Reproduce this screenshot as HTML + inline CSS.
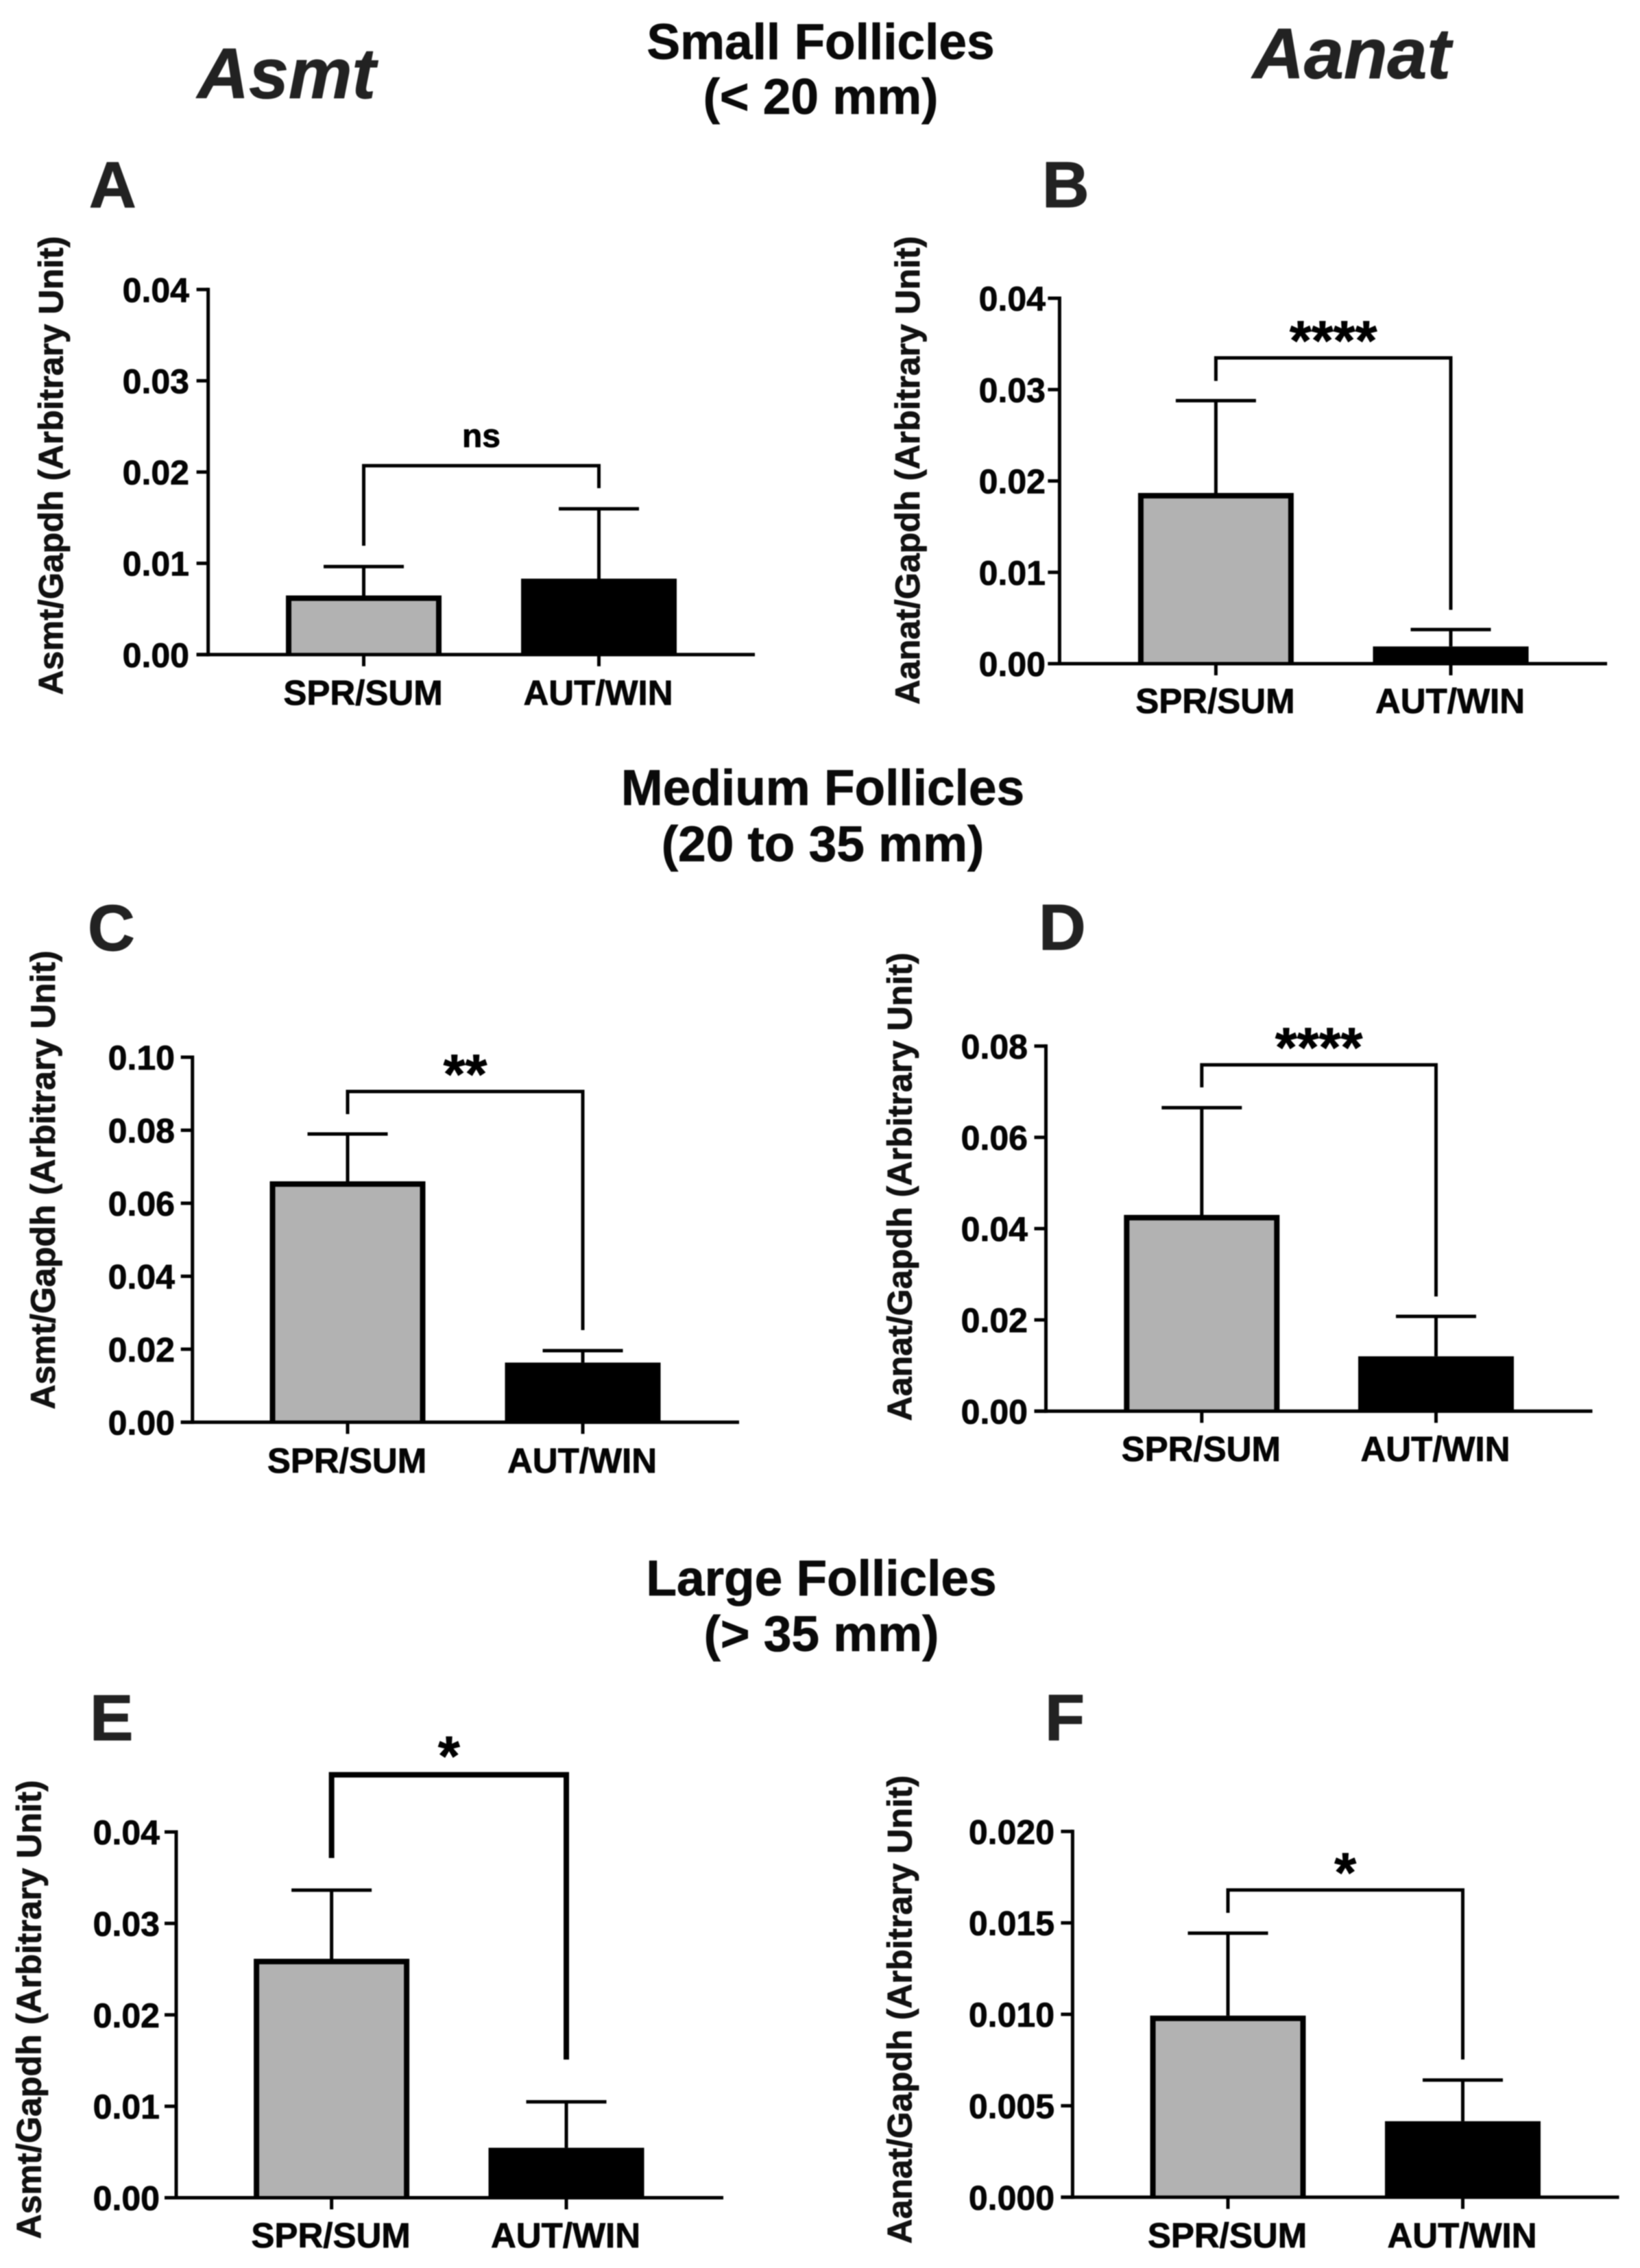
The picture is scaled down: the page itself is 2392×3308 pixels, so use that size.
<!DOCTYPE html>
<html lang="en">
<head>
<meta charset="utf-8">
<title>Asmt and Aanat expression in follicles</title>
<style>
html,body{margin:0;padding:0;background:#fff;}
svg{display:block;font-family:"Liberation Sans",Arial,sans-serif;font-weight:bold;filter:blur(0.7px);}
svg text{stroke-linejoin:round;}
.head{font-size:73px;fill:#0a0a0a;stroke:#0a0a0a;stroke-width:0.8px;text-anchor:middle;}
.gene{font-size:104px;font-style:italic;fill:#222;stroke:#222;stroke-width:1px;}
.letter{font-size:95px;fill:#222;stroke:#222;stroke-width:1.2px;}
</style>
</head>
<body>
<svg id="figure" xmlns="http://www.w3.org/2000/svg" width="2392" height="3308" viewBox="0 0 2392 3308">
<rect x="0" y="0" width="2392" height="3308" fill="#fff"/>
<text class="gene" x="288" y="143">Asmt</text>
<text class="gene" x="1827" y="114">Aanat</text>
<text class="head" x="1197" y="86">Small Follicles</text>
<text class="head" x="1197" y="166">(&lt; 20 mm)</text>
<text class="head" x="1200" y="1174">Medium Follicles</text>
<text class="head" x="1200" y="1256">(20 to 35 mm)</text>
<text class="head" x="1198" y="2327">Large Follicles</text>
<text class="head" x="1198" y="2408">(&gt; 35 mm)</text>
<text class="letter" x="130" y="302">A</text>
<text class="letter" x="1520" y="302">B</text>
<text class="letter" x="128" y="1386">C</text>
<text class="letter" x="1515" y="1385">D</text>
<text class="letter" x="131" y="2538">E</text>
<text class="letter" x="1524" y="2538">F</text>
</svg>
<script>
const categories = ['SPR/SUM', 'AUT/WIN'];

const panelAMeans = [0.00648, 0.00832];
const panelAErrorTops = [0.00965, 0.01598];
const panelATicks = ['0.00', '0.01', '0.02', '0.03', '0.04'];
const panelABracket = [0.01193, 0.0207, 0.01824];

const panelBMeans = [0.01869, 0.00189];
const panelBErrorTops = [0.02879, 0.00373];
const panelBTicks = ['0.00', '0.01', '0.02', '0.03', '0.04'];
const panelBBracket = [0.03095, 0.03347, 0.00589];

const panelCMeans = [0.0660, 0.01634];
const panelCErrorTops = [0.07896, 0.0196];
const panelCTicks = ['0.00', '0.02', '0.04', '0.06', '0.08', '0.10'];
const panelCBracket = [0.0844, 0.0906, 0.02524];

const panelDMeans = [0.04301, 0.01202];
const panelDErrorTops = [0.0665, 0.02078];
const panelDTicks = ['0.00', '0.02', '0.04', '0.06', '0.08'];
const panelDBracket = [0.07096, 0.0759, 0.02513];

const panelEMeans = [0.02613, 0.00546];
const panelEErrorTops = [0.03364, 0.01049];
const panelETicks = ['0.00', '0.01', '0.02', '0.03', '0.04'];
const panelEBracket = [0.03715, 0.04625, 0.01511];

const panelFMeans = [0.00993, 0.00416];
const panelFErrorTops = [0.01444, 0.00641];
const panelFTicks = ['0.000', '0.005', '0.010', '0.015', '0.020'];
const panelFBracket = [0.01555, 0.0168, 0.00753];

const SVG_NS = 'http://www.w3.org/2000/svg';
const figure = document.getElementById('figure');

function make(parent, tag, attrs, text) {
  const el = document.createElementNS(SVG_NS, tag);
  Object.keys(attrs).forEach(function (k) { el.setAttribute(k, attrs[k]); });
  if (text !== undefined) el.textContent = text;
  parent.appendChild(el);
  return el;
}

function drawPanel(id, d, g) {
  const group = make(figure, 'g', {});
  
  

  const tickValues = d.ticks.map(parseFloat);
  const maxValue = tickValues[tickValues.length - 1];
  const yScale = function (v) { return g.y0 - (v / maxValue) * (g.y0 - g.yTop); };
  const xScale = function (i) { return g.x0 + i * g.step; };
  const lineW = 5;

  // bars (open at the bottom: the x axis closes them)
  d.means.forEach(function (v, i) {
    const barStroke = 8;
    const left = xScale(i) - g.barW / 2 + barStroke / 2;
    const right = xScale(i) + g.barW / 2 - barStroke / 2;
    const top = yScale(v) + barStroke / 2;
    const bar = make(group, 'path', {
      d: 'M' + left + ' ' + g.y0 + 'L' + left + ' ' + top + 'L' + right + ' ' + top + 'L' + right + ' ' + g.y0,
      fill: i === 0 ? '#b2b2b2' : '#000',
      stroke: '#000',
      'stroke-width': barStroke
    });
    
    
  });

  // error bars
  d.errs.forEach(function (v, i) {
    const stem = make(group, 'line', {
      x1: xScale(i), x2: xScale(i), y1: yScale(d.means[i]), y2: yScale(v),
      stroke: '#000', 'stroke-width': lineW
    });
    
    
    const cap = make(group, 'line', {
      x1: xScale(i) - 58.5, x2: xScale(i) + 58.5, y1: yScale(v), y2: yScale(v),
      stroke: '#000', 'stroke-width': lineW
    });
    
    
  });

  // axes
  const yAxis = make(group, 'line', {
    x1: g.axisX, x2: g.axisX, y1: g.yTop - 2.5, y2: g.y0 + 2.5,
    stroke: '#000', 'stroke-width': lineW
  });
  
  
  const xAxis = make(group, 'line', {
    x1: g.axisX - 17, x2: g.xRight, y1: g.y0, y2: g.y0,
    stroke: '#000', 'stroke-width': lineW
  });
  
  

  // y ticks
  d.ticks.forEach(function (label, i) {
    const y = yScale(tickValues[i]);
    const tick = make(group, 'line', {
      x1: g.axisX - 17, x2: g.axisX, y1: y, y2: y,
      stroke: '#000', 'stroke-width': lineW
    });
    
    
    const text = make(group, 'text', {
      x: g.tickLabelX, y: y + 18, 'text-anchor': 'end',
      'font-size': 50, fill: '#050505', stroke: '#050505', 'stroke-width': 0.8
    }, label);
    
    
  });

  // x ticks
  categories.forEach(function (label, i) {
    const tick = make(group, 'line', {
      x1: xScale(i), x2: xScale(i), y1: g.y0, y2: g.y0 + 17,
      stroke: '#000', 'stroke-width': lineW
    });
    
    
    const text = make(group, 'text', {
      x: xScale(i) - 1, y: g.catBase, 'text-anchor': 'middle',
      'font-size': 51, fill: '#050505', stroke: '#050505', 'stroke-width': 0.8
    }, label);
    
    
  });

  // y title
  const title = make(group, 'text', {
    x: g.titleX, y: g.titleY, 'text-anchor': 'middle', 'font-size': 50.2,
    fill: '#111', stroke: '#111', 'stroke-width': 0.8,
    transform: 'rotate(-90 ' + g.titleX + ' ' + g.titleY + ')'
  }, d.yTitle);
  
  

  // significance bracket: left end, top, right end in data units
  const bx0 = xScale(0), bx1 = xScale(1);
  const bracket = make(group, 'path', {
    d: 'M' + bx0 + ' ' + yScale(d.bracket[0]) + 'L' + bx0 + ' ' + yScale(d.bracket[1]) +
       'L' + bx1 + ' ' + yScale(d.bracket[1]) + 'L' + bx1 + ' ' + yScale(d.bracket[2]),
    fill: 'none', stroke: '#000', 'stroke-width': g.bracketW
  });
  
  

  const sig = make(group, 'text', {
    x: (bx0 + bx1) / 2 + g.sigDx, y: yScale(d.bracket[1]) + g.sigDy,
    'text-anchor': 'middle', 'font-size': d.sig === 'ns' ? 48 : 82,
    fill: '#000', stroke: '#000', 'stroke-width': 0.8
  }, d.sig);
  
  
}

drawPanel('a',
  { means: panelAMeans, errs: panelAErrorTops, ticks: panelATicks, bracket: panelABracket, sig: 'ns', yTitle: 'Asmt/Gapdh (Arbitrary Unit)' },
  { axisX: 303.6, yTop: 422.3, y0: 954.8, x0: 530.5, step: 343, barW: 227, xRight: 1101, tickLabelX: 276, catBase: 1028, titleX: 91.5, titleY: 679, bracketW: 5, sigDx: 0, sigDy: -27 });

drawPanel('b',
  { means: panelBMeans, errs: panelBErrorTops, ticks: panelBTicks, bracket: panelBBracket, sig: '****', yTitle: 'Aanat/Gapdh (Arbitrary Unit)' },
  { axisX: 1545.4, yTop: 435, y0: 968, x0: 1773.4, step: 342.6, barW: 227, xRight: 2344, tickLabelX: 1525, catBase: 1040, titleX: 1341, titleY: 686, bracketW: 5, sigDx: 0, sigDy: 3 });

drawPanel('c',
  { means: panelCMeans, errs: panelCErrorTops, ticks: panelCTicks, bracket: panelCBracket, sig: '**', yTitle: 'Asmt/Gapdh (Arbitrary Unit)' },
  { axisX: 280.7, yTop: 1542, y0: 2074.4, x0: 507, step: 343, barW: 227, xRight: 1078, tickLabelX: 255, catBase: 2148, titleX: 80, titleY: 1721, bracketW: 5, sigDx: 0, sigDy: 3 });

drawPanel('d',
  { means: panelDMeans, errs: panelDErrorTops, ticks: panelDTicks, bracket: panelDBracket, sig: '****', yTitle: 'Aanat/Gapdh (Arbitrary Unit)' },
  { axisX: 1525.5, yTop: 1525.8, y0: 2058.3, x0: 1752.8, step: 341.7, barW: 227, xRight: 2322.6, tickLabelX: 1499, catBase: 2131, titleX: 1329.5, titleY: 1731, bracketW: 5, sigDx: 0, sigDy: 3 });

drawPanel('e',
  { means: panelEMeans, errs: panelEErrorTops, ticks: panelETicks, bracket: panelEBracket, sig: '*', yTitle: 'Asmt/Gapdh (Arbitrary Unit)' },
  { axisX: 257, yTop: 2672, y0: 3205.5, x0: 483.6, step: 342.4, barW: 227, xRight: 1055, tickLabelX: 233, catBase: 3278, titleX: 59.5, titleY: 2931, bracketW: 8, sigDx: 0, sigDy: 1 });

drawPanel('f',
  { means: panelFMeans, errs: panelFErrorTops, ticks: panelFTicks, bracket: panelFBracket, sig: '*', yTitle: 'Aanat/Gapdh (Arbitrary Unit)' },
  { axisX: 1564.4, yTop: 2671.3, y0: 3204.8, x0: 1791, step: 342.5, barW: 227, xRight: 2361.5, tickLabelX: 1538, catBase: 3278, titleX: 1329.5, titleY: 2931, bracketW: 5, sigDx: 0, sigDy: 3 });
</script>
</body>
</html>
